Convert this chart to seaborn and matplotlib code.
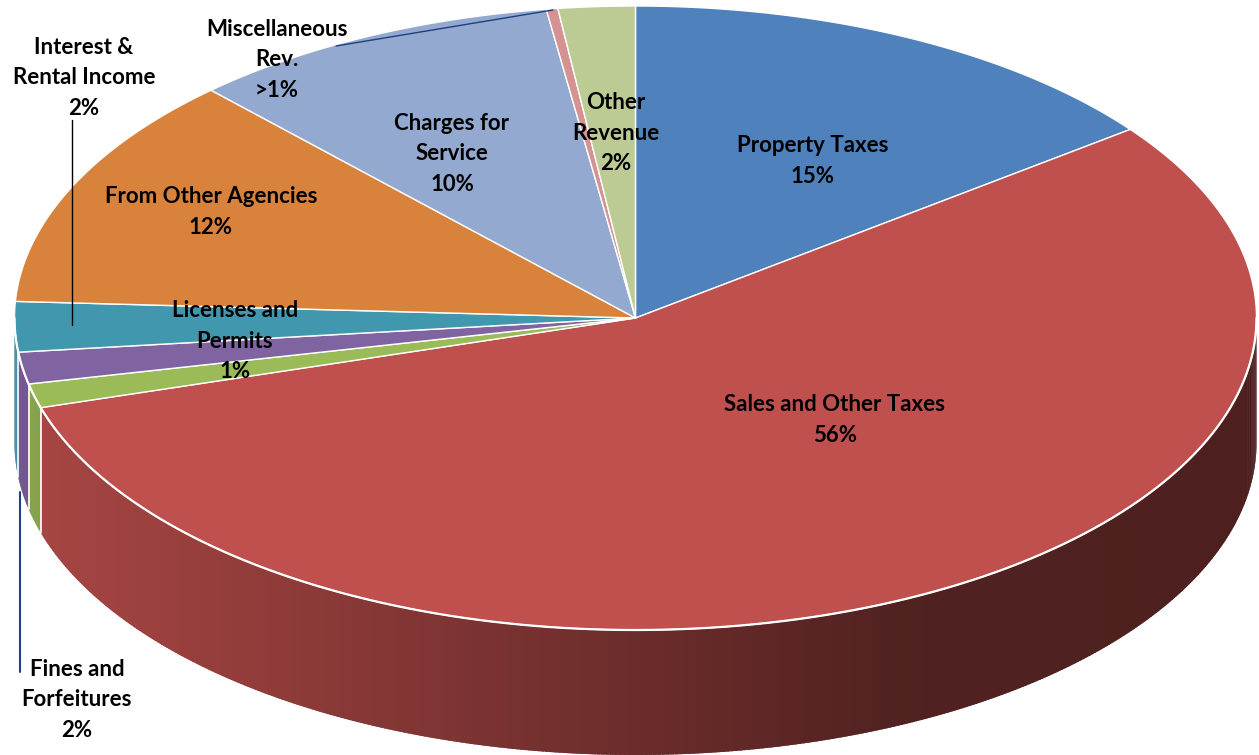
import numpy as np
import matplotlib
matplotlib.use("Agg")
import matplotlib.pyplot as plt
from matplotlib.patches import Polygon
from matplotlib.colors import to_rgb
import seaborn as sns

# ---------------- data ----------------
categories = ["Property Taxes", "Sales and Other Taxes", "Fines and Forfeitures",
              "Licenses and Permits", "Interest & Rental Income", "From Other Agencies",
              "Charges for Service", "Miscellaneous Rev.", "Other Revenue"]
values = [14.7, 55.8, 1.25, 1.65, 2.6, 12.2, 9.7, 0.3, 2.0]
label_texts = ["Property Taxes\n15%", "Sales and Other Taxes\n56%", "Fines and\nForfeitures\n2%",
               "Licenses and\nPermits\n1%", "Interest &\nRental Income\n2%",
               "From Other Agencies\n12%", "Charges for\nService\n10%",
               "Miscellaneous\nRev.\n>1%", "Other\nRevenue\n2%"]
hex_colors = ["#4f81bd", "#c0504d", "#9bbb59", "#8064a2", "#4198ae",
              "#d9823c", "#93a9cf", "#d49290", "#bccb93"]

# ---------------- layout ----------------
W, H = 1259, 755
cx, cy, rx, ry, depth = 635.5, 318.0, 621.0, 312.0, 125.0
label_pos = [(813, 161), (835, 420), (77, 700), (235, 341), (84, 78),
             (211, 212), (452, 154), (277, 60), (616, 133)]
leaders = [((72, 120), (72, 325), "#000000", 1.0),
           ((20, 492), (20, 672), "#1f3f7f", 1.5),
           ((336, 46), (553, 10), "#1f3f7f", 1.0)]

sns.set_theme(style="white")
palette = sns.color_palette(hex_colors)
plt.rcParams['font.family'] = ['Lato', 'DejaVu Sans']

fig = plt.figure(figsize=(W / 100, H / 100), dpi=100)
ax = fig.add_axes([0, 0, 1, 1])
ax.set_xlim(0, W)
ax.set_ylim(H, 0)
ax.axis("off")


def pt(theta_deg, dy=0.0):
    t = np.radians(theta_deg)
    return cx + rx * np.sin(t), cy - ry * np.cos(t) + dy


vals = np.array(values, dtype=float)
fr = vals / vals.sum()
bounds = np.concatenate([[0], np.cumsum(fr) * 360.0])


def shade(x):
    return np.interp(x, [14, 900, W], [0.88, 0.42, 0.40])


# side faces (front half: 90..270 deg); strips overlap to avoid seams
step = 0.4
for i, col in enumerate(palette):
    a0, a1 = max(bounds[i], 90.0), min(bounds[i + 1], 270.0)
    if a1 <= a0:
        continue
    n = max(2, int((a1 - a0) / step) + 1)
    ts = np.linspace(a0, a1, n)
    base = np.array(to_rgb(col))
    for k, (t0, t1) in enumerate(zip(ts[:-1], ts[1:])):
        t1e = min(t1 + (t1 - t0) * 0.8, a1)
        arc = np.linspace(t0, t1e, 4)
        top = [pt(t) for t in arc]
        bot = [pt(t, depth) for t in arc[::-1]]
        xm = 0.5 * (pt(t0)[0] + pt(t1)[0])
        c = np.clip(base * shade(xm), 0, 1)
        ax.add_patch(Polygon(top + bot, closed=True, facecolor=c,
                             edgecolor="none", lw=0, zorder=1))

# white vertical lines at slice boundaries on the side
for b in bounds:
    if 90.0 <= b <= 270.0:
        p, q = pt(b), pt(b, depth)
        ax.plot([p[0], q[0]], [p[1], q[1]], color="white", lw=1.2, zorder=2)

# top wedges
for i, col in enumerate(palette):
    ts = np.linspace(bounds[i], bounds[i + 1], max(3, int((bounds[i + 1] - bounds[i]) / 0.3)))
    poly = [(cx, cy)] + [pt(t) for t in ts]
    ax.add_patch(Polygon(poly, closed=True, facecolor=col, edgecolor="white",
                         lw=1.0, joinstyle="round", zorder=3))

# white rim along the front edge of the top
ts = np.linspace(90, 270, 400)
rim = np.array([pt(t) for t in ts])
ax.plot(rim[:, 0], rim[:, 1], color="white", lw=1.6, zorder=4)

# leader lines
for (x0, y0), (x1, y1), c, lw in leaders:
    ax.plot([x0, x1], [y0, y1], color=c, lw=lw, zorder=5)

# labels
for txt, (x, y) in zip(label_texts, label_pos):
    ax.text(x, y, txt, ha="center", va="center", fontsize=16, fontweight="bold",
            color="black", linespacing=1.58, zorder=6)

fig.savefig("out.png", dpi=100)
